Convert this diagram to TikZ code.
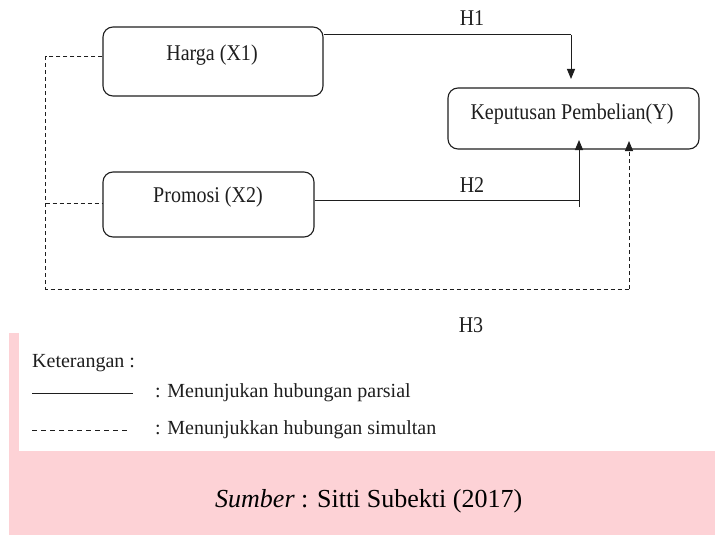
\documentclass[tikz,border=0pt]{standalone}
\usepackage{fontspec}
\setmainfont{Liberation Serif}
\newfontfamily\diagfont[FakeStretch=0.89]{Liberation Serif}
\usetikzlibrary{arrows.meta}
\definecolor{pinkbg}{RGB}{253,210,214}
\definecolor{ink}{RGB}{30,30,30}
\begin{document}
\begin{tikzpicture}[x=1pt,y=-1pt,
  box/.style={draw=ink, line width=1.1pt, rounded corners=10pt, inner sep=0pt},
  lbl/.style={inner sep=0pt, font=\diagfont\fontsize{22.5}{26}\selectfont, text=ink},
  leg/.style={inner sep=0pt, font=\fontsize{20}{24}\selectfont, text=ink},
  conn/.style={draw=ink, line width=1pt},
  sim/.style={draw=ink, line width=1pt, dash pattern=on 4pt off 3pt},
  tip/.style={-{Triangle[length=10pt,width=8pt]}}]
\useasboundingbox (0,0) rectangle (715,535);
% background
\fill[pinkbg] (9,333) rectangle (19,451);
\fill[pinkbg] (9,451) rectangle (715,535);
% boxes
\node[box, minimum width=220pt, minimum height=69pt] (harga) at (213,61.5) {};
\node[lbl] (hargat) at (212,55) {Harga (X1)};
\node[box, minimum width=211pt, minimum height=65pt] (promosi) at (208.5,204.5) {};
\node[lbl] (promosit) at (208,197) {Promosi (X2)};
\node[box, minimum width=251pt, minimum height=61pt] (kp) at (573.5,118.5) {};
\node[lbl] (kpt) at (572,114) {Keputusan Pembelian(Y)};
% labels
\node[lbl] (h1) at (472,18) {H1};
\node[lbl] (h2) at (472,185) {H2};
\node[lbl] (h3) at (471,325) {H3};
% coordinates
\coordinate (h1c) at (571,35);
\coordinate (h1e) at (571,79);
\coordinate (h2c) at (579,200);
\coordinate (h2s) at (579,207);
\coordinate (h2e) at (579,140);
\coordinate (lt) at (45.5,57);
\coordinate (lm) at (45.5,203);
\coordinate (lb) at (45.5,289);
\coordinate (h3c) at (629,289);
\coordinate (h3e) at (629,141);
% partial
\draw[conn] ([yshift=26.5pt]harga.east) -- (h1c);
\draw[conn,tip] (h1c) -- (h1e);
\draw[conn] ([yshift=4.5pt]promosi.east) -- (h2c);
\draw[conn,tip] (h2s) -- (h2e);
% simultaneous
\draw[sim] ([yshift=4.5pt]harga.west) -- (lt) -- (lb) -- (h3c);
\draw[sim,tip] (h3c) -- (h3e);
\draw[sim] (lm) -- ([yshift=1.5pt]promosi.west);
% legend
\node[leg, anchor=base west] (ket) at (32,367) {Keterangan :};
\coordinate (l1a) at (32,393);
\coordinate (l1b) at (133,393);
\coordinate (l2a) at (32,430);
\coordinate (l2b) at (127,430);
\draw[conn] (l1a) -- (l1b);
\draw[draw=ink, line width=1pt, dash pattern=on 5pt off 4pt] (l2a) -- (l2b);
\node[leg, anchor=west] (leg1) at (155,393) {: Menunjukan hubungan parsial};
\node[leg, anchor=west] (leg2) at (155,430) {: Menunjukkan hubungan simultan};
% source
\node[inner sep=0pt, anchor=base west, font=\fontsize{26}{30}\selectfont, text=black] (src) at (215,507) {\textit{Sumber} : Sitti Subekti (2017)};
\end{tikzpicture}
\end{document}
